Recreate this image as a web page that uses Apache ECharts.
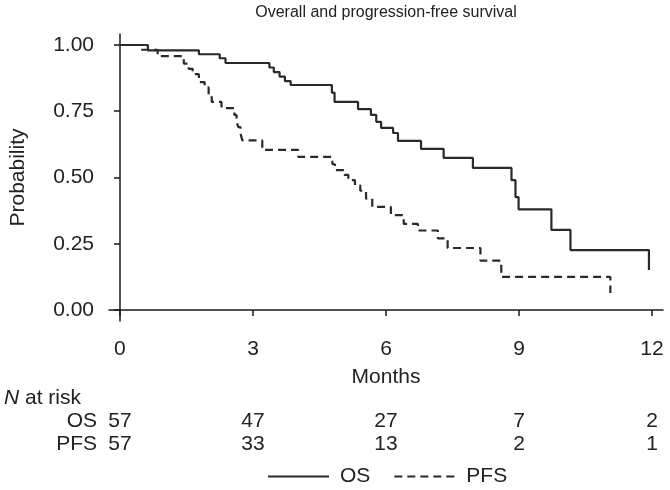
<!DOCTYPE html>
<html>
<head>
<meta charset="utf-8">
<script src="https://cdn.jsdelivr.net/npm/echarts@6/dist/echarts.min.js"></script>
<style>
html,body{margin:0;padding:0;background:#fff;}
#c{width:670px;height:490px;}
</style>
</head>
<body>
<div id="c"></div>
<script>
// ---- data ----
const chartTitle = 'Overall and progression-free survival';
const xTicks = [0, 3, 6, 9, 12];
const yTicks = [0, 0.25, 0.5, 0.75, 1];
const osTime = [0, 0.63, 1.78, 2.25, 2.38, 3.37, 3.47, 3.6, 3.72, 3.85, 4.78, 4.84, 5.37, 5.66, 5.78, 5.89, 6.16, 6.27, 6.79, 7.3, 7.96, 8.83, 8.92, 8.99, 9.73, 10.16, 11.93];
const osSurv = [1, 0.98, 0.965, 0.95, 0.932, 0.915, 0.898, 0.881, 0.864, 0.849, 0.82, 0.785, 0.758, 0.736, 0.71, 0.687, 0.668, 0.638, 0.608, 0.574, 0.536, 0.49, 0.426, 0.38, 0.302, 0.226, 0.151];
const pfsTime = [0, 0.45, 0.85, 1.44, 1.55, 1.64, 1.78, 1.91, 2.0, 2.07, 2.29, 2.58, 2.63, 2.67, 2.72, 2.76, 3.21, 4.02, 4.79, 4.85, 5.06, 5.15, 5.3, 5.42, 5.55, 5.69, 6.11, 6.4, 6.72, 7.17, 7.39, 8.13, 8.6, 11.06];
const pfsSurv = [1, 0.982, 0.958, 0.93, 0.91, 0.89, 0.86, 0.84, 0.81, 0.785, 0.762, 0.736, 0.71, 0.69, 0.665, 0.64, 0.604, 0.578, 0.55, 0.528, 0.51, 0.49, 0.47, 0.45, 0.42, 0.389, 0.358, 0.325, 0.30, 0.27, 0.234, 0.186, 0.125, 0.064];
const riskTimes = [0, 3, 6, 9, 12];
const riskOS = [57, 47, 27, 7, 2];
const riskPFS = [57, 33, 13, 2, 1];
const seriesNames = ['OS', 'PFS'];

// ---- chart ----
const FONT = '"Liberation Sans", Arial, sans-serif';
const TXT = '#222';
const FS = 21;
const chart = echarts.init(document.getElementById('c'), null, {renderer: 'canvas'});
const zip = (a, b) => a.map((v, i) => [v, b[i]]);

chart.setOption({
  animation: false,
  backgroundColor: '#fff',
  textStyle: {fontFamily: FONT},
  grid: {left: 107, top: 34, width: 556, height: 287, containLabel: false},
  xAxis: {
    type: 'value', min: -0.247, max: 12.247,
    name: 'Months', nameLocation: 'middle', nameGap: 46,
    nameTextStyle: {fontSize: FS, color: TXT, fontFamily: FONT},
    axisLine: {show: true, lineStyle: {color: '#1a1a1a', width: 1.5}},
    axisTick: {show: true, length: 6, lineStyle: {color: '#1a1a1a', width: 1.5}, customValues: xTicks},
    axisLabel: {fontSize: FS, color: TXT, margin: 18, fontFamily: FONT, customValues: xTicks, formatter: v => String(v)},
    splitLine: {show: false}
  },
  yAxis: {
    type: 'value', min: -0.0415, max: 1.0415,
    name: 'Probability', nameLocation: 'middle', nameGap: 80, nameRotate: 90,
    nameTextStyle: {fontSize: FS, color: TXT, fontFamily: FONT},
    axisLine: {show: true, lineStyle: {color: '#1a1a1a', width: 1.5}},
    axisTick: {show: true, length: 6, lineStyle: {color: '#1a1a1a', width: 1.5}, customValues: yTicks},
    axisLabel: {fontSize: FS, color: TXT, margin: 15, fontFamily: FONT, customValues: yTicks, formatter: v => v.toFixed(2)},
    splitLine: {show: false}
  },
  legend: {
    data: seriesNames, left: 262, top: 461, itemWidth: 61, itemHeight: 14, itemGap: 23,
    textStyle: {fontSize: FS, color: TXT, fontFamily: FONT, padding: [0, 0, 0, 6]},
    itemStyle: {color: 'rgba(0,0,0,0)', borderWidth: 0, opacity: 0},
    selectedMode: false
  },
  series: [
    {name: 'OS', type: 'line', step: 'end', symbol: 'none', data: zip(osTime, osSurv),
     lineStyle: {color: '#2a2a2a', width: 2.2, type: 'solid'}, itemStyle: {color: '#2a2a2a', opacity: 0}},
    {name: 'PFS', type: 'line', step: 'end', symbol: 'none', data: zip(pfsTime, pfsSurv),
     lineStyle: {color: '#2a2a2a', width: 2.2, type: [8, 5]}, itemStyle: {color: '#2a2a2a', opacity: 0}}
  ]
});

// ---- title and risk table (positions from the x scale) ----
const g = [];
const txt = (x, y, text, align, size) => g.push({
  type: 'text', x: x, y: y, silent: true,
  style: {text: text, fill: TXT, font: size + 'px ' + FONT, align: align, verticalAlign: 'middle'}
});
const gridCenter = chart.convertToPixel({xAxisIndex: 0}, 6);
txt(gridCenter, 13, chartTitle, 'center', 16);
g.push({type: 'text', x: 4, y: 398, silent: true,
  style: {text: '{i|N} at risk', fill: TXT, font: FS + 'px ' + FONT, align: 'left', verticalAlign: 'middle',
    rich: {i: {fontStyle: 'italic', fontSize: FS, fontFamily: FONT, fill: TXT}}}});
txt(97, 421, 'OS', 'right', FS);
txt(97, 444, 'PFS', 'right', FS);
riskTimes.forEach((t, i) => {
  const px = chart.convertToPixel({xAxisIndex: 0}, t);
  txt(px, 421, String(riskOS[i]), 'center', FS);
  txt(px, 444, String(riskPFS[i]), 'center', FS);
});
chart.setOption({graphic: g});
</script>
</body>
</html>
